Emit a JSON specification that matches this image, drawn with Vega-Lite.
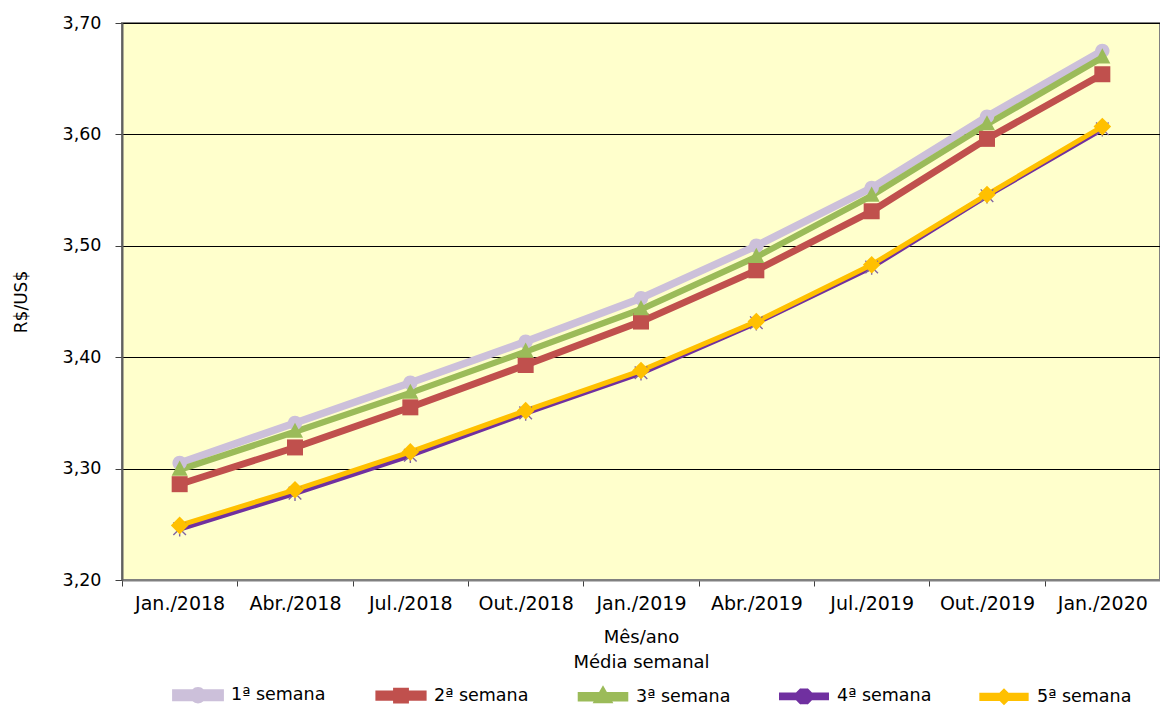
{
  "$schema": "https://vega.github.io/schema/vega-lite/v6.json",
  "width": 1038,
  "height": 557,
  "autosize": {"type": "none"},
  "padding": {"left": 122, "top": 23, "right": 0, "bottom": 126},
  "background": "white",
  "config": {
    "font": "DejaVu Sans",
    "view": {"fill": "#FFFFCC", "stroke": "#808080", "strokeWidth": 2}
  },
  "data": {
    "values": [
      {"mes": "Jan./2018", "serie": "1ª semana", "valor": 3.305},
      {"mes": "Abr./2018", "serie": "1ª semana", "valor": 3.341},
      {"mes": "Jul./2018", "serie": "1ª semana", "valor": 3.377},
      {"mes": "Out./2018", "serie": "1ª semana", "valor": 3.414},
      {"mes": "Jan./2019", "serie": "1ª semana", "valor": 3.453},
      {"mes": "Abr./2019", "serie": "1ª semana", "valor": 3.500},
      {"mes": "Jul./2019", "serie": "1ª semana", "valor": 3.552},
      {"mes": "Out./2019", "serie": "1ª semana", "valor": 3.616},
      {"mes": "Jan./2020", "serie": "1ª semana", "valor": 3.675},
      {"mes": "Jan./2018", "serie": "2ª semana", "valor": 3.286},
      {"mes": "Abr./2018", "serie": "2ª semana", "valor": 3.319},
      {"mes": "Jul./2018", "serie": "2ª semana", "valor": 3.355},
      {"mes": "Out./2018", "serie": "2ª semana", "valor": 3.393},
      {"mes": "Jan./2019", "serie": "2ª semana", "valor": 3.432},
      {"mes": "Abr./2019", "serie": "2ª semana", "valor": 3.478},
      {"mes": "Jul./2019", "serie": "2ª semana", "valor": 3.531},
      {"mes": "Out./2019", "serie": "2ª semana", "valor": 3.596},
      {"mes": "Jan./2020", "serie": "2ª semana", "valor": 3.654},
      {"mes": "Jan./2018", "serie": "3ª semana", "valor": 3.299},
      {"mes": "Abr./2018", "serie": "3ª semana", "valor": 3.333},
      {"mes": "Jul./2018", "serie": "3ª semana", "valor": 3.368},
      {"mes": "Out./2018", "serie": "3ª semana", "valor": 3.405},
      {"mes": "Jan./2019", "serie": "3ª semana", "valor": 3.443},
      {"mes": "Abr./2019", "serie": "3ª semana", "valor": 3.490},
      {"mes": "Jul./2019", "serie": "3ª semana", "valor": 3.545},
      {"mes": "Out./2019", "serie": "3ª semana", "valor": 3.609},
      {"mes": "Jan./2020", "serie": "3ª semana", "valor": 3.669},
      {"mes": "Jan./2018", "serie": "4ª semana", "valor": 3.246},
      {"mes": "Abr./2018", "serie": "4ª semana", "valor": 3.278},
      {"mes": "Jul./2018", "serie": "4ª semana", "valor": 3.312},
      {"mes": "Out./2018", "serie": "4ª semana", "valor": 3.350},
      {"mes": "Jan./2019", "serie": "4ª semana", "valor": 3.386},
      {"mes": "Abr./2019", "serie": "4ª semana", "valor": 3.431},
      {"mes": "Jul./2019", "serie": "4ª semana", "valor": 3.481},
      {"mes": "Out./2019", "serie": "4ª semana", "valor": 3.545},
      {"mes": "Jan./2020", "serie": "4ª semana", "valor": 3.605},
      {"mes": "Jan./2018", "serie": "5ª semana", "valor": 3.249},
      {"mes": "Abr./2018", "serie": "5ª semana", "valor": 3.281},
      {"mes": "Jul./2018", "serie": "5ª semana", "valor": 3.315},
      {"mes": "Out./2018", "serie": "5ª semana", "valor": 3.352},
      {"mes": "Jan./2019", "serie": "5ª semana", "valor": 3.388},
      {"mes": "Abr./2019", "serie": "5ª semana", "valor": 3.432},
      {"mes": "Jul./2019", "serie": "5ª semana", "valor": 3.483},
      {"mes": "Out./2019", "serie": "5ª semana", "valor": 3.546},
      {"mes": "Jan./2020", "serie": "5ª semana", "valor": 3.607}
    ]
  },
  "encoding": {
    "x": {
      "field": "mes",
      "type": "ordinal",
      "sort": null,
      "scale": {"type": "band", "paddingInner": 0, "paddingOuter": 0},
      "axis": {
        "title": ["Mês/ano", "Média semanal"],
        "titleFontSize": 18,
        "titleFontWeight": "normal",
        "titleColor": "black",
        "titlePadding": 15,
        "titleLineHeight": 25,
        "labelAngle": 0,
        "labelFontSize": 19,
        "labelColor": "black",
        "labelPadding": 8,
        "tickBand": "extent",
        "tickSize": 6,
        "tickColor": "#404040",
        "domainColor": "#808080",
        "domainWidth": 2,
        "grid": false
      }
    },
    "y": {
      "field": "valor",
      "type": "quantitative",
      "scale": {"domain": [3.2, 3.7], "nice": false, "zero": false},
      "axis": {
        "title": "R$/US$",
        "titleFontSize": 17,
        "titleFontWeight": "normal",
        "titleColor": "black",
        "titlePadding": 32,
        "values": [3.2, 3.3, 3.4, 3.5, 3.6, 3.7],
        "labelExpr": "replace(format(datum.value, '.2f'), '.', ',')",
        "labelFontSize": 17.5,
        "labelColor": "black",
        "labelPadding": 14,
        "tickSize": 7,
        "tickColor": "#404040",
        "domainColor": "#606060",
        "domainWidth": 2,
        "grid": true,
        "gridColor": "black",
        "gridWidth": 1,
        "gridOpacity": 1
      }
    },
    "color": {
      "field": "serie",
      "type": "nominal",
      "scale": {
        "domain": ["1ª semana", "2ª semana", "3ª semana", "4ª semana", "5ª semana"],
        "range": ["#CCC0DA", "#C0504D", "#9BBB59", "#7030A0", "#FFC000"]
      }
    }
  },
  "layer": [
    {
      "mark": {"type": "line", "strokeJoin": "round", "strokeCap": "round"},
      "encoding": {
        "strokeWidth": {
          "field": "serie",
          "type": "nominal",
          "scale": {
            "domain": ["1ª semana", "2ª semana", "3ª semana", "4ª semana", "5ª semana"],
            "range": [7.5, 5, 5, 2.5, 5]
          },
          "legend": null
        },
        "color": {
          "field": "serie",
          "type": "nominal",
          "legend": {
            "orient": "none",
            "legendX": 47,
            "legendY": 643,
            "direction": "horizontal",
            "columns": 5,
            "title": null,
            "symbolType": "circle",
            "symbolSize": 2480,
            "columnPadding": 39,
            "labelOffset": 4,
            "labelFontSize": 17.5,
            "labelColor": "black",
            "encode": {
              "symbols": {
                "update": {
                  "shape": {"signal": "datum.value === '1ª semana' ? 'M-0.89,-0.09H0.89V0.09H-0.89Z M0.18,0A0.18,0.18,0,1,1,-0.18,0A0.18,0.18,0,1,1,0.18,0Z' : datum.value === '2ª semana' ? 'M-0.89,-0.065H0.89V0.065H-0.89Z M-0.18,-0.18H0.18V0.18H-0.18Z' : datum.value === '3ª semana' ? 'M-0.89,-0.065H0.89V0.065H-0.89Z M0,-0.21L0.2,0.14H-0.2Z' : datum.value === '4ª semana' ? 'M-0.89,-0.04H0.89V0.04H-0.89Z M-0.018,-0.2H0.018V0.2H-0.018Z M-0.15,-0.17L0.17,0.15L0.15,0.17L-0.17,-0.15Z M0.15,-0.17L0.17,-0.15L-0.15,0.17L-0.17,0.15Z' : 'M-0.89,-0.065H0.89V0.065H-0.89Z M0,-0.2L0.2,0L0,0.2L-0.2,0Z'"},
                  "fill": {"scale": "color", "field": "value"},
                  "stroke": {"value": "transparent"},
                  "strokeWidth": {"value": 0},
                  "size": {"value": 2480},
                  "opacity": {"value": 1}
                }
              }
            }
          }
        }
      }
    },
    {
      "transform": [{"filter": "datum.serie === '4ª semana'"}],
      "mark": {"type": "point", "filled": true, "opacity": 1, "color": "#8064A2", "size": 200,
        "shape": "M-0.1,-1.1H0.1V1.1H-0.1Z M-0.82,-0.96L0.96,0.82L0.82,0.96L-0.96,-0.82Z M0.82,-0.96L0.96,-0.82L-0.82,0.96L-0.96,0.82Z"},
      "encoding": {"color": {"value": "#8064A2"}}
    },
    {
      "transform": [{"filter": "datum.serie !== '4ª semana'"}],
      "mark": {"type": "point", "filled": true, "opacity": 1, "size": 256},
      "encoding": {
        "shape": {
          "field": "serie",
          "type": "nominal",
          "scale": {
            "domain": ["1ª semana", "2ª semana", "3ª semana", "5ª semana"],
            "range": [
              "M0.9,0A0.9,0.9,0,1,1,-0.9,0A0.9,0.9,0,1,1,0.9,0Z",
              "M-1,-1H1V1H-1Z",
              "M0,-1.15L1,0.75H-1Z",
              "M0,-1.1L1.1,0L0,1.1L-1.1,0Z"
            ]
          },
          "legend": null
        },
        "color": {"field": "serie", "type": "nominal", "legend": null}
      }
    }
  ]
}
